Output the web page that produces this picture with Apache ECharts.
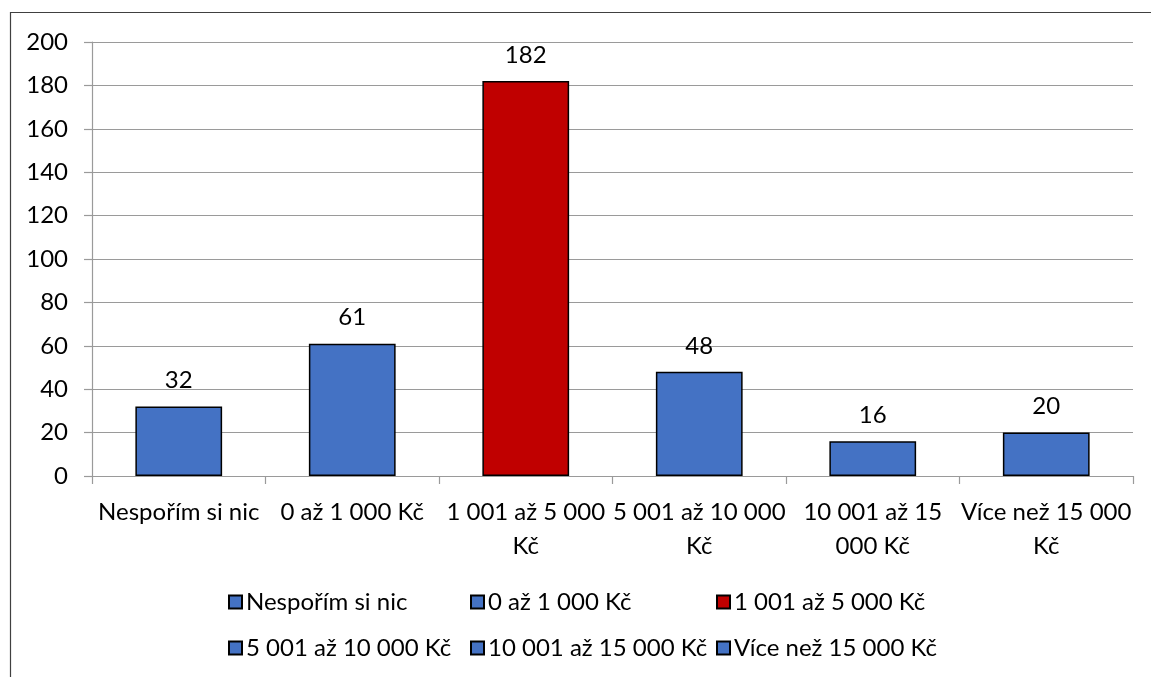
<!DOCTYPE html>
<html>
<head>
<meta charset="utf-8">
<script src="https://cdn.jsdelivr.net/npm/echarts@6/dist/echarts.min.js"></script>
<style>html,body{margin:0;padding:0;background:#fff}#c{width:1151px;height:677px}</style>
</head>
<body>
<div id="c"></div>
<script>
var categories = ['Nespořím si nic', '0 až 1 000 Kč', '1 001 až 5 000 Kč', '5 001 až 10 000 Kč', '10 001 až 15 000 Kč', 'Více než 15 000 Kč'];
var tickLabels = ['Nespořím si nic', '0 až 1 000 Kč', '1 001 až 5 000\nKč', '5 001 až 10 000\nKč', '10 001 až 15\n000 Kč', 'Více než 15 000\nKč'];
var values = [32, 61, 182, 48, 16, 20];
var colors = ['#4472C4', '#4472C4', '#C00000', '#4472C4', '#4472C4', '#4472C4'];
var yTicks = [0, 20, 40, 60, 80, 100, 120, 140, 160, 180, 200];

var FONT = 'Lato';
var FS = 24;

var series = categories.map(function (name, i) {
  return {
    name: name,
    type: 'bar',
    stack: 'all',
    barWidth: '50%',
    data: values.map(function (v, j) { return j === i ? v : '-'; }),
    itemStyle: { color: colors[i], borderColor: '#000', borderWidth: 1.5 },
    label: { show: true, position: 'top', distance: 14, color: '#000', fontFamily: FONT, fontSize: FS },
    emphasis: { disabled: true }
  };
});

var legendLeft = [228, 470, 716];
var legendTop = [590, 636];
var legends = categories.map(function (name, i) {
  return {
    data: [{ name: name, icon: 'rect' }],
    left: legendLeft[i % 3],
    top: legendTop[Math.floor(i / 3)],
    padding: 0,
    itemWidth: 13,
    itemHeight: 13,
    itemGap: 0,
    selectedMode: false,
    textStyle: { color: '#000', fontFamily: FONT, fontSize: FS, padding: [0, 0, 0, -1] }
  };
});

var chart = echarts.init(document.getElementById('c'));
chart.setOption({
  animation: false,
  backgroundColor: '#fff',
  textStyle: { fontFamily: FONT },
  graphic: [{
    type: 'rect', shape: { x: 10.5, y: 12.5, width: 1300, height: 800 },
    style: { fill: 'none', stroke: '#404040', lineWidth: 1.2 }, silent: true
  }],
  grid: { left: 92, right: 18, top: 42, bottom: 201 },
  legend: legends,
  xAxis: {
    type: 'category',
    data: categories,
    axisLine: { lineStyle: { color: '#9a9a9a', width: 1.2 } },
    axisTick: { show: true, length: 8, lineStyle: { color: '#9a9a9a', width: 1.2 } },
    axisLabel: {
      interval: 0, margin: 19, color: '#000', fontFamily: FONT, fontSize: FS, lineHeight: 34,
      formatter: function (v, i) { return tickLabels[i]; }
    }
  },
  yAxis: {
    type: 'value', min: yTicks[0], max: yTicks[yTicks.length - 1], interval: 20,
    axisLine: { show: true, lineStyle: { color: '#9a9a9a', width: 1.2 } },
    axisTick: { show: true, length: 8, lineStyle: { color: '#9a9a9a', width: 1.2 } },
    splitLine: { lineStyle: { color: '#9a9a9a', width: 1.2 } },
    axisLabel: { margin: 24, color: '#000', fontFamily: FONT, fontSize: FS }
  },
  series: series
});
</script>
</body>
</html>
